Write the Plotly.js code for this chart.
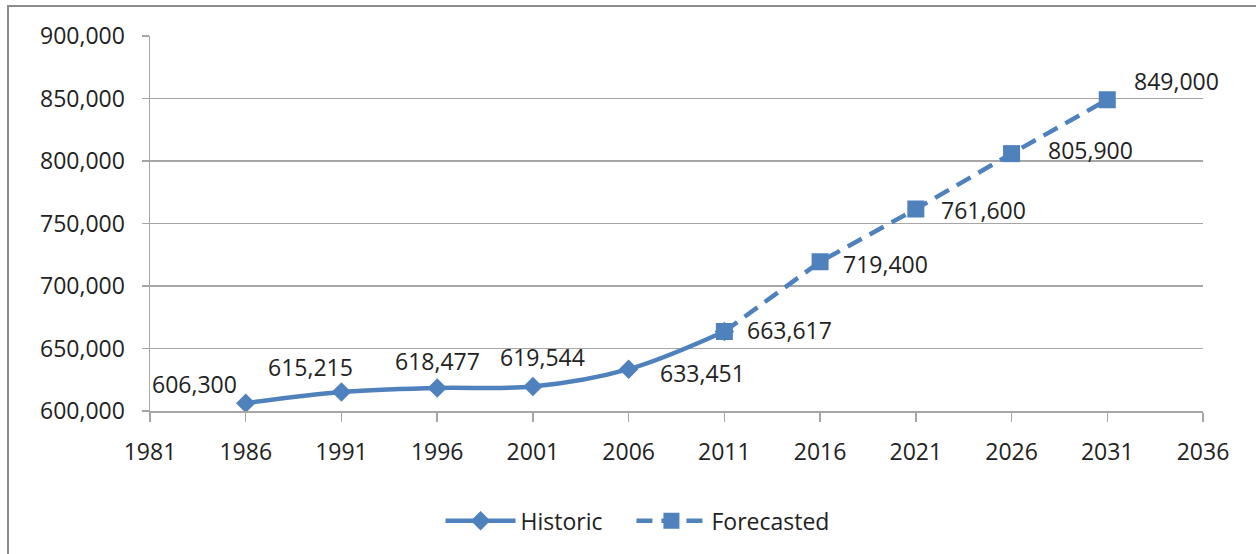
<!DOCTYPE html>
<html>
<head>
<meta charset="utf-8">
<script src="https://cdn.plot.ly/plotly-3.0.1.min.js"></script>
<style>
  html, body { margin: 0; padding: 0; background: #fff; }
  #chart { width: 1256px; height: 554px; position: absolute; left: 0; top: 0; }
  #frame { position: absolute; left: 7px; top: 5px; width: 1260px; height: 560px;
           border-left: 2px solid #8c8c8c; border-top: 2px solid #8c8c8c; pointer-events: none; }
</style>
</head>
<body>
<div id="chart"></div>
<div id="frame"></div>
<script>
// Population, historic census years
const historicYears = [1986, 1991, 1996, 2001, 2006, 2011];
const historicValues = [606300, 615215, 618477, 619544, 633451, 663617];

// Population, forecast years
const forecastYears = [2011, 2016, 2021, 2026, 2031];
const forecastValues = [663617, 719400, 761600, 805900, 849000];

// Value-label offsets in pixels, one per labelled point
const labelYears = [1986, 1991, 1996, 2001, 2006, 2011, 2016, 2021, 2026, 2031];
const labelValues = [606300, 615215, 618477, 619544, 633451, 663617, 719400, 761600, 805900, 849000];
const labelShiftX = [-51, -31, 0, 10, 74, 65, 65, 68, 79, 69];
const labelShiftY = [19, 25, 27, 30, -4, 1, -2, -1, 4, 19];

const blue = '#4f81bd';
const textColor = '#222222';
const gridColor = '#a6a6a6';
const font = { family: 'Open Sans, Lato, sans-serif', size: 23, color: textColor };

const fmt = v => v.toLocaleString('en-US');
const pad = '\u00a0\u00a0\u00a0\u00a0';

const historic = {
  x: historicYears, y: historicValues, name: 'Historic' + pad,
  type: 'scatter', mode: 'lines+markers',
  line: { color: blue, width: 4.5, shape: 'spline', smoothing: 1 },
  marker: { symbol: 'diamond', size: 15, color: blue },
  hoverinfo: 'x+y'
};

const forecast = {
  x: forecastYears, y: forecastValues, name: 'Forecasted',
  type: 'scatter', mode: 'lines+markers',
  line: { color: blue, width: 4.5, dash: '16px,9px' },
  marker: { symbol: 'square', size: 17, color: blue },
  hoverinfo: 'x+y'
};

const annotations = labelYears.map((yr, i) => ({
  x: yr, y: labelValues[i], xref: 'x', yref: 'y',
  text: fmt(labelValues[i]), showarrow: false,
  xshift: labelShiftX[i], yshift: labelShiftY[i],
  font: font
}));

const layout = {
  width: 1256, height: 554,
  margin: { l: 150, r: 53, t: 36, b: 143 },
  paper_bgcolor: 'rgba(0,0,0,0)',
  plot_bgcolor: '#ffffff',
  font: font,
  showlegend: true,
  legend: {
    orientation: 'h', x: 0.463, xanchor: 'center', y: -0.293, yanchor: 'middle',
    font: font, itemwidth: 70, traceorder: 'normal', bgcolor: 'rgba(0,0,0,0)'
  },
  xaxis: {
    range: [1981, 2036], tick0: 1981, dtick: 5,
    showgrid: false, zeroline: false,
    showline: true, linecolor: gridColor, linewidth: 1.5,
    ticks: 'outside', ticklen: 9, tickcolor: gridColor, tickwidth: 1.5,
    ticklabelstandoff: 11,
    tickfont: font
  },
  yaxis: {
    range: [600000, 900000], tick0: 600000, dtick: 50000, tickformat: ',d',
    showgrid: true, gridcolor: gridColor, gridwidth: 1.5, zeroline: false,
    showline: true, linecolor: gridColor, linewidth: 1.5,
    ticks: 'outside', ticklen: 7, tickcolor: gridColor, tickwidth: 1.5,
    ticklabelstandoff: 12,
    tickfont: font
  },
  annotations: annotations
};

Plotly.newPlot('chart', [historic, forecast], layout, { displayModeBar: false, staticPlot: true });
</script>
</body>
</html>
